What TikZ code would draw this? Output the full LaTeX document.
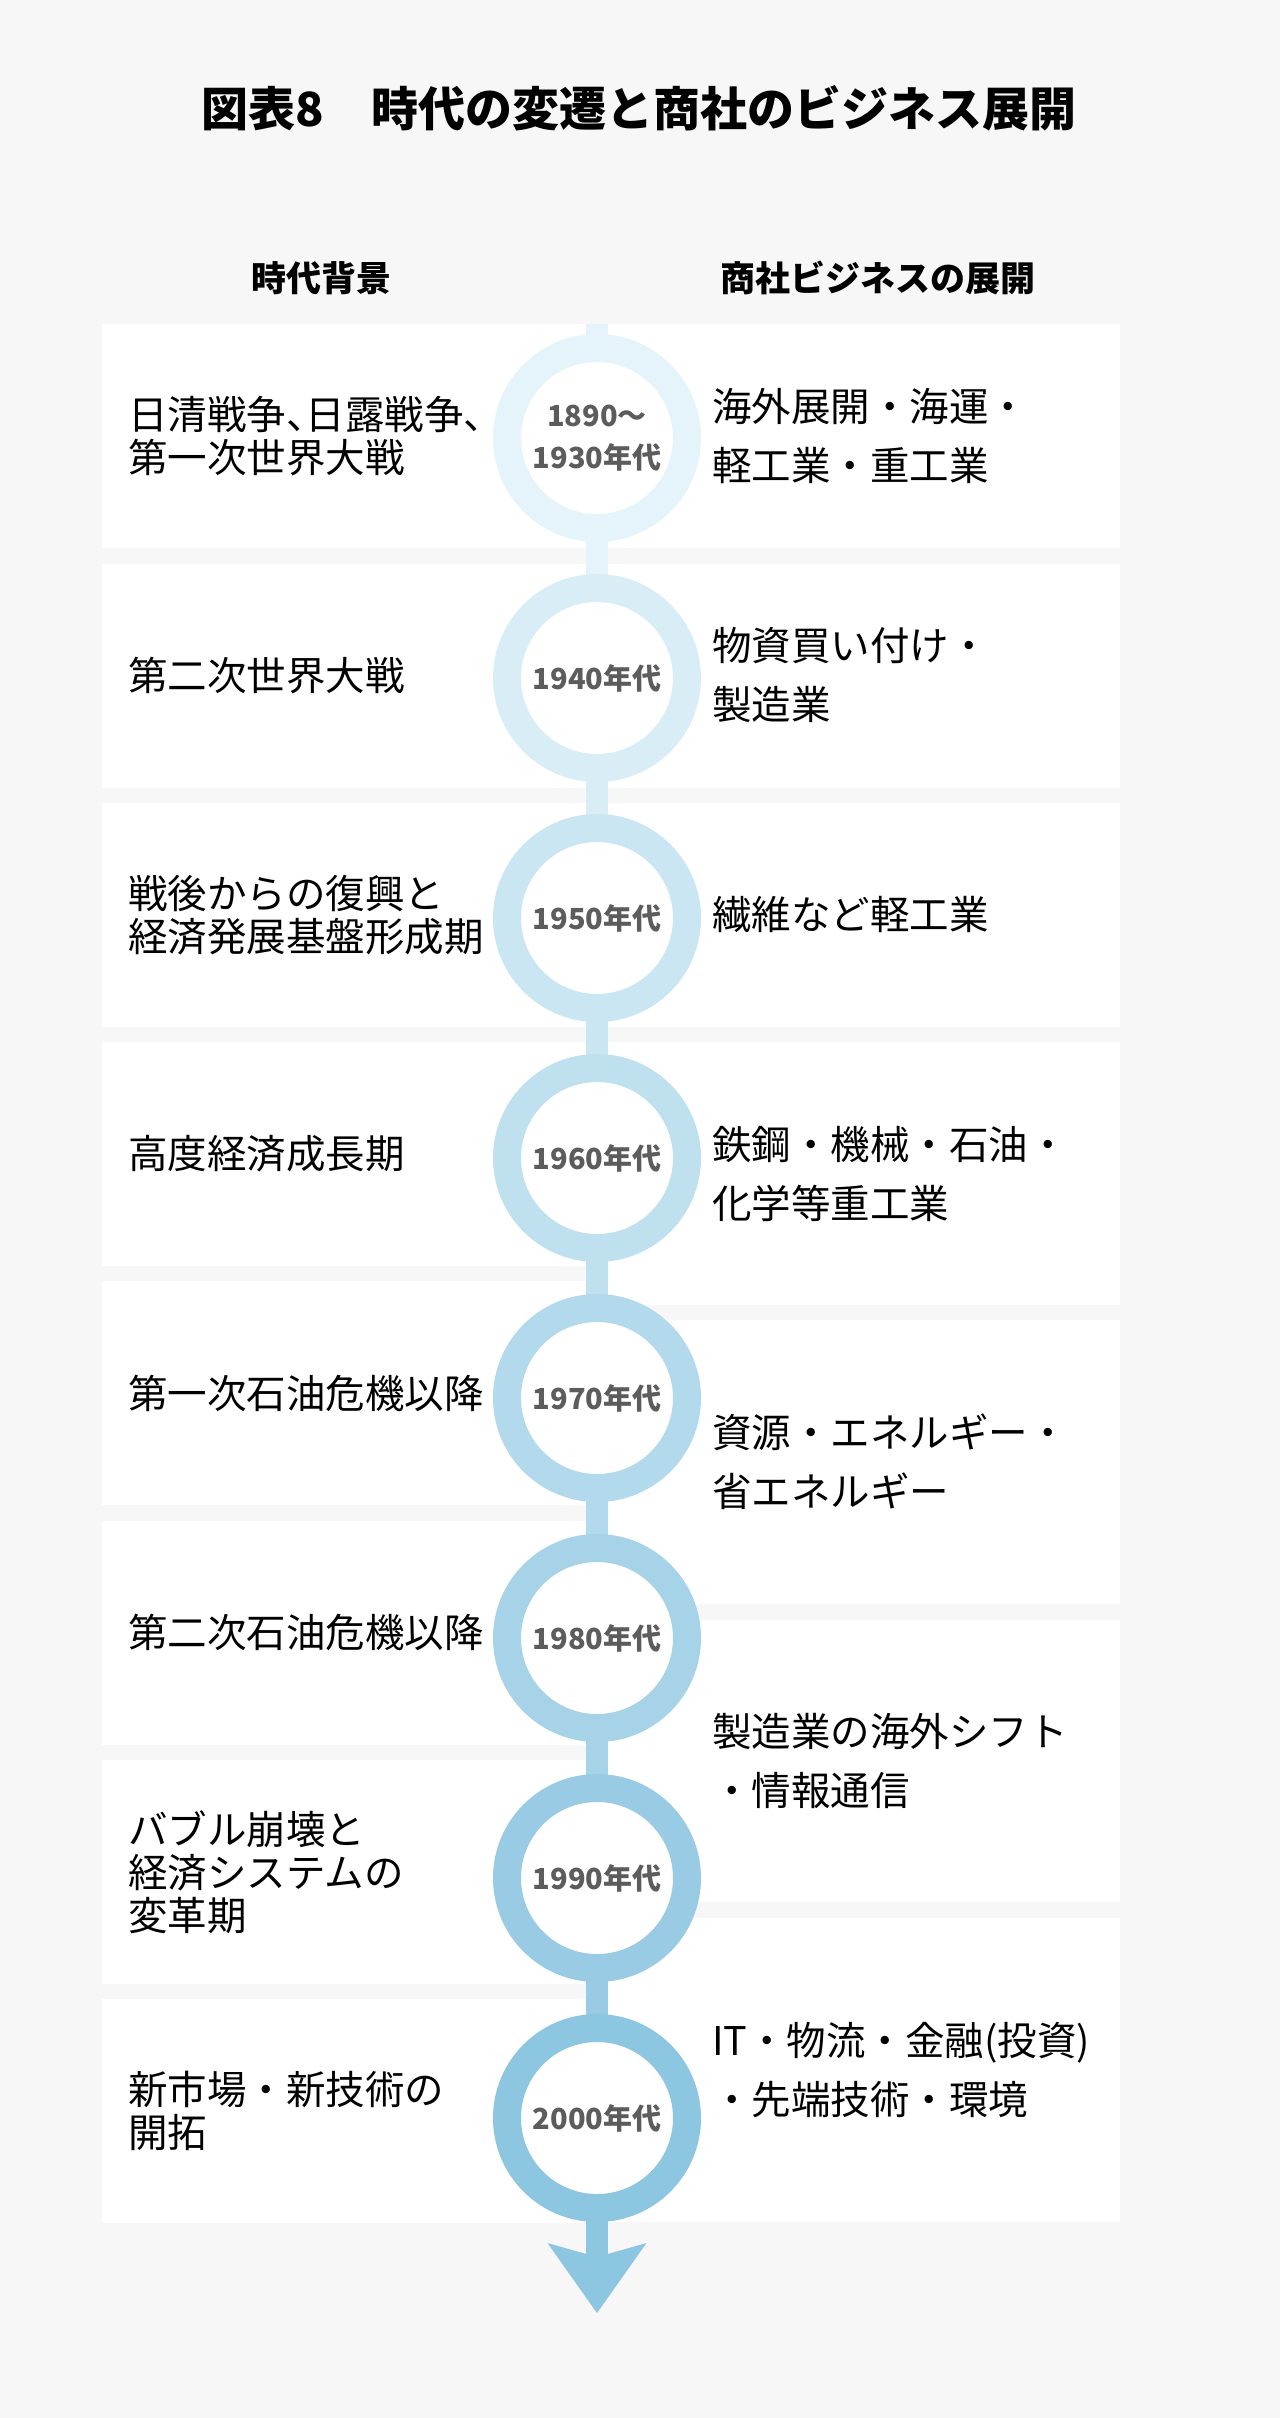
\documentclass[tikz,border=0pt]{standalone}
\usepackage{fontspec}
\setmainfont{Noto Sans CJK JP}
\usepackage{xcolor}
\usepackage{tikz}
\usetikzlibrary{positioning,arrows.meta}

\definecolor{bggray}{HTML}{F7F7F7}
\definecolor{numgray}{HTML}{5C5C5C}
\definecolor{ringA}{HTML}{E5F3FA}
\definecolor{ringB}{HTML}{8DC6E1}
\colorlet{ring1}{ringA}
\colorlet{ring2}{ringB!14!ringA}
\colorlet{ring3}{ringB!29!ringA}
\colorlet{ring4}{ringB!43!ringA}
\colorlet{ring5}{ringB!57!ringA}
\colorlet{ring6}{ringB!71!ringA}
\colorlet{ring7}{ringB!86!ringA}
\colorlet{ring8}{ringB}

% halbe Breite fuer Satzzeichen
\newcommand{\halfpunct}[1]{{\addfontfeature{RawFeature=+halt}#1}}

\tikzset{
	panel/.style = {fill=white, inner sep=0, anchor=north west},
	lpanel/.style = {panel, minimum width=495pt, minimum height=224pt},
	rpanel/.style = {panel, minimum width=523pt, minimum height=#1},
	ltext/.style = {align=left, inner sep=0, anchor=west, font=\fontsize{39.5}{43}\selectfont},
	rtext/.style = {align=left, inner sep=0, anchor=west, font=\fontsize{39.5}{59}\selectfont},
	era/.style = {circle, draw=#1, line width=28pt, fill=white, minimum size=180pt, inner sep=0, align=center, text=numgray, font=\fontsize{29}{42}\selectfont\bfseries},
	seg/.style = {draw=#1, line width=22pt}
}

\begin{document}
\begin{tikzpicture}[x=1pt, y=-1pt]
		\path[use as bounding box, fill=bggray] (0,0) rectangle (1280,2418);
		
		% nodes
		\node[font=\fontsize{47}{50}\selectfont\bfseries] (title) at (639,108) {図表8　時代の変遷と商社のビジネス展開};
		\node[font=\fontsize{35}{40}\selectfont\bfseries] (background) at (321,278) {時代背景};
		\node[font=\fontsize{35}{40}\selectfont\bfseries] (business) at (878,278) {商社ビジネスの展開};
		
		\node[lpanel] (left1) at (102,324) {};
		\node[lpanel] (left2) at (102,563.3) {};
		\node[lpanel] (left3) at (102,802.6) {};
		\node[lpanel] (left4) at (102,1041.9) {};
		\node[lpanel] (left5) at (102,1281.2) {};
		\node[lpanel] (left6) at (102,1520.5) {};
		\node[lpanel] (left7) at (102,1759.8) {};
		\node[lpanel] (left8) at (102,1999.1) {};
		
		\node[rpanel = 224pt] (right1) at (597,324) {};
		\node[rpanel = 224pt] (right2) at (597,563.3) {};
		\node[rpanel = 224pt] (right3) at (597,802.6) {};
		\node[rpanel = 263pt] (right4) at (597,1041.9) {};
		\node[rpanel = 284pt] (right5) at (597,1320) {};
		\node[rpanel = 282pt] (right6) at (597,1620) {};
		\node[rpanel = 304pt] (right7) at (597,1918) {};
		
		\node[ltext, right = 26pt of left1.west] (cause1) {日清戦争\halfpunct{、}日露戦争\halfpunct{、}\\第一次世界大戦};
		\node[ltext, right = 26pt of left2.west] (cause2) {第二次世界大戦};
		\node[ltext, right = 26pt of left3.west] (cause3) {戦後からの復興と\\経済発展基盤形成期};
		\node[ltext, right = 26pt of left4.west] (cause4) {高度経済成長期};
		\node[ltext, right = 26pt of left5.west] (cause5) {第一次石油危機以降};
		\node[ltext, right = 26pt of left6.west] (cause6) {第二次石油危機以降};
		\node[ltext, right = 26pt of left7.west] (cause7) {バブル崩壊と\\経済システムの\\変革期};
		\node[ltext, right = 26pt of left8.west] (cause8) {新市場・新技術の\\開拓};
		
		\node[rtext, right = 115pt of right1.west] (deal1) {海外展開・海運・\\軽工業・重工業};
		\node[rtext, right = 115pt of right2.west] (deal2) {物資買い付け・\\製造業};
		\node[rtext, right = 115pt of right3.west] (deal3) {繊維など軽工業};
		\node[rtext, right = 115pt of right4.west] (deal4) {鉄鋼・機械・石油・\\化学等重工業};
		\node[rtext, right = 115pt of right5.west] (deal5) {資源・エネルギー・\\省エネルギー};
		\node[rtext, right = 115pt of right6.west] (deal6) {製造業の海外シフト\\・情報通信};
		\node[rtext, right = 115pt of right7.west] (deal7) {IT・物流・金融(投資)\\・先端技術・環境};
		
		% timeline
		\coordinate (start) at (597,324);
		\coordinate (p1) at (597,438);
		\coordinate (p2) at (597,678);
		\coordinate (p3) at (597,918);
		\coordinate (p4) at (597,1158);
		\coordinate (p5) at (597,1398);
		\coordinate (p6) at (597,1638);
		\coordinate (p7) at (597,1878);
		\coordinate (p8) at (597,2118);
		\coordinate (tip) at (597,2313);
		
		\draw[seg = ring1] (start) -- (p1);
		\draw[seg = ring1] (p1) -- (p2);
		\draw[seg = ring2] (p2) -- (p3);
		\draw[seg = ring3] (p3) -- (p4);
		\draw[seg = ring4] (p4) -- (p5);
		\draw[seg = ring5] (p5) -- (p6);
		\draw[seg = ring6] (p6) -- (p7);
		\draw[seg = ring7] (p7) -- (p8);
		\draw[seg = ring8, -{Stealth[length=70pt, width=99pt, inset=14pt, line width=0pt]}] (p8) -- (tip);
		
		\node[era = ring1] (era1) at (p1) {1890～\\1930年代};
		\node[era = ring2] (era2) at (p2) {1940年代};
		\node[era = ring3] (era3) at (p3) {1950年代};
		\node[era = ring4] (era4) at (p4) {1960年代};
		\node[era = ring5] (era5) at (p5) {1970年代};
		\node[era = ring6] (era6) at (p6) {1980年代};
		\node[era = ring7] (era7) at (p7) {1990年代};
		\node[era = ring8] (era8) at (p8) {2000年代};
\end{tikzpicture}
\end{document}
